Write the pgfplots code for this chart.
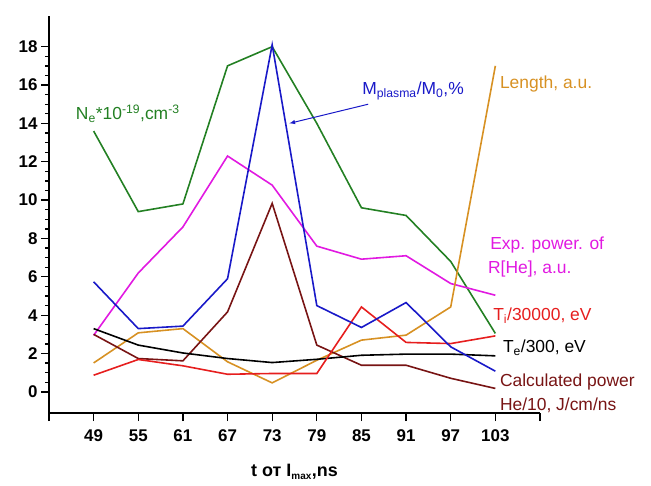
\documentclass[border=0pt]{standalone}
\usepackage{fontspec}
\setmainfont{Liberation Sans}
\usepackage{pgfplots}
\pgfplotsset{compat=1.18}
\definecolor{cgreen}{RGB}{35,128,35}
\definecolor{cblue}{RGB}{25,25,200}
\definecolor{cmag}{RGB}{225,25,225}
\definecolor{cbrown}{RGB}{120,20,20}
\definecolor{cred}{RGB}{230,30,30}
\definecolor{corange}{RGB}{215,145,35}
\begin{document}
\begin{tikzpicture}
\useasboundingbox (-49bp,-73bp) rectangle (602bp,413bp);
\begin{axis}[
  at={(0,0)}, anchor=south west,
  scale only axis, width=491bp, height=397bp,
  xmin=43, xmax=109, ymin=-1.1, ymax=19.6,
  axis x line=bottom, axis y line=left,
  axis line style={-, line width=1.6pt},
  xtick={43,49,...,109},
  xticklabels={{},49,55,61,67,73,79,85,91,97,103,{}},
  ytick={0,2,...,18},
  minor y tick num=3,
  tick align=outside,
  major tick length=8bp, minor tick length=4bp,
  every tick/.style={black, line width=1.3pt},
  /pgf/number format/assume math mode=true,
  tick label style={font=\fontsize{17}{19}\selectfont\bfseries},
  xticklabel style={yshift=-5bp},
  xlabel={t от I\textsubscript{\fontsize{10}{10}\selectfont max},ns},
  xlabel style={font=\fontsize{18}{20}\selectfont\bfseries, yshift=-16bp},
  clip=false,
  every axis plot/.append style={line width=1.6pt, mark=none},
]
\addplot[cgreen] coordinates {(49,13.6) (55,9.4) (61,9.8) (67,17.0) (73,18.0) (79,14.0) (85,9.6) (91,9.2) (97,6.8) (103,3.05)};
\addplot[cmag] coordinates {(49,2.95) (55,6.2) (61,8.6) (67,12.3) (73,10.78) (79,7.6) (85,6.92) (91,7.1) (97,5.65) (103,5.04)};
\addplot[corange] coordinates {(49,1.51) (55,3.08) (61,3.3) (67,1.57) (73,0.47) (79,1.65) (85,2.7) (91,2.96) (97,4.43) (103,17.0)};
\addplot[cbrown] coordinates {(49,3.0) (55,1.74) (61,1.62) (67,4.17) (73,9.83) (79,2.44) (85,1.39) (91,1.39) (97,0.71) (103,0.18)};
\addplot[black] coordinates {(49,3.3) (55,2.44) (61,2.03) (67,1.74) (73,1.53) (79,1.7) (85,1.91) (91,1.97) (97,1.97) (103,1.88)};
\addplot[cred] coordinates {(49,0.87) (55,1.69) (61,1.36) (67,0.92) (73,0.96) (79,0.96) (85,4.43) (91,2.58) (97,2.52) (103,2.92)};
\addplot[cblue] coordinates {(49,5.74) (55,3.3) (61,3.43) (67,5.9) (73,18.1) (79,4.5) (85,3.36) (91,4.66) (97,2.35) (103,1.08)};
\draw[cblue, line width=1pt, -{latex}] (axis cs:85.9,15.0) -- (axis cs:75.3,14.0);
\begin{scope}[every node/.style={font=\fontsize{17.5}{19}\selectfont, inner sep=0pt}]
\node[cgreen, anchor=base west] at (axis cs:46.6,14.2) {N\textsubscript{e}*10\textsuperscript{-19},cm\textsuperscript{-3}};
\node[cblue, anchor=base west] at (axis cs:85.1,15.5) {M\textsubscript{plasma}/M\textsubscript{0},\%};
\node[corange, anchor=base west] at (axis cs:103.6,15.83) {Length, a.u.};
\node[cmag, anchor=base west] at (axis cs:102.3,7.43) {Exp. power. of};
\node[cmag, anchor=base west] at (axis cs:102.0,6.18) {R[He], a.u.};
\node[cred, anchor=base west] at (axis cs:102.7,3.74) {T\textsubscript{i}/30000, eV};
\node[black, anchor=base west] at (axis cs:104.0,2.05) {T\textsubscript{e}/300, eV};
\node[cbrown, anchor=base west] at (axis cs:103.6,0.26) {Calculated power};
\node[cbrown, anchor=base west] at (axis cs:103.6,-0.95) {He/10, J/cm/ns};
\end{scope}
\end{axis}
\end{tikzpicture}
\end{document}
